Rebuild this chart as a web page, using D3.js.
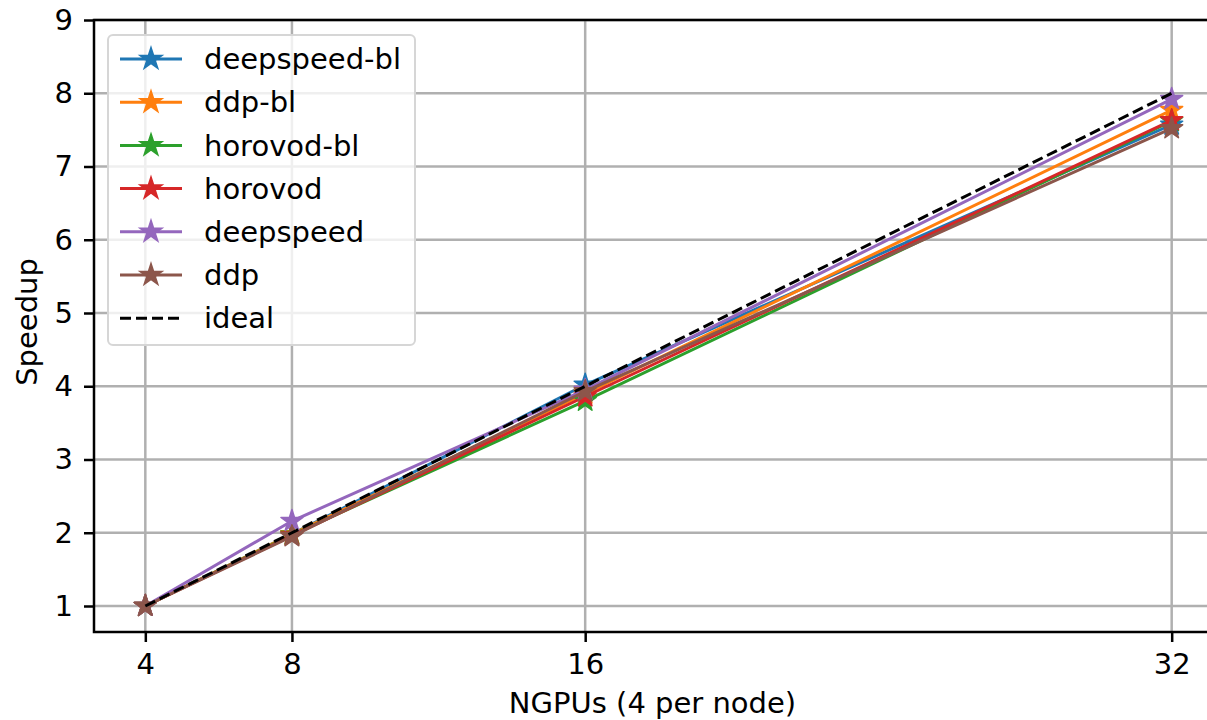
<!DOCTYPE html>
<html>
<head>
<meta charset="utf-8">
<script src="https://cdn.jsdelivr.net/npm/d3@7"></script>
<style>
  body { margin: 0; background: #fff; }
  text { font-family: "DejaVu Sans", sans-serif; fill: #000; }
</style>
</head>
<body>
<div id="chart"></div>
<script>
// Data
const ngpus = [4, 8, 16, 32];
const seriesNames = ['deepspeed-bl', 'ddp-bl', 'horovod-bl', 'horovod', 'deepspeed', 'ddp'];
const deepspeedBl = [1, 1.98, 4.02, 7.57];
const ddpBl = [1, 1.98, 3.90, 7.77];
const horovodBl = [1, 1.97, 3.80, 7.62];
const horovod = [1, 1.96, 3.86, 7.63];
const deepspeed = [1, 2.16, 3.95, 7.92];
const ddp = [1, 1.95, 3.93, 7.52];
const ideal = [1, 2, 4, 8];
const yTicks = [1, 2, 3, 4, 5, 6, 7, 8, 9];
const colors = ['#1f77b4', '#ff7f0e', '#2ca02c', '#d62728', '#9467bd', '#8c564b'];

const W = 1207, H = 720;
const MARGIN = { LEFT: 94, RIGHT: -16, TOP: 20, BOTTOM: 88 };
const FONT = '29px';

const svg = d3.select('#chart').append('svg')
  .attr('width', W).attr('height', H);

const x = d3.scaleLinear().domain([2.6, 33.4]).range([MARGIN.LEFT, W - MARGIN.RIGHT]);
const y = d3.scaleLinear().domain([0.645, 9]).range([H - MARGIN.BOTTOM, MARGIN.TOP]);

// grid
const grid = svg.append('g');
ngpus.forEach(v => {
  grid.append('line').attr('x1', x(v)).attr('x2', x(v))
    .attr('y1', y.range()[1]).attr('y2', y.range()[0])
    .attr('stroke', '#b0b0b0').attr('stroke-width', 2.5);
});
yTicks.forEach(v => {
  grid.append('line').attr('x1', x.range()[0]).attr('x2', x.range()[1])
    .attr('y1', y(v)).attr('y2', y(v))
    .attr('stroke', '#b0b0b0').attr('stroke-width', 2.5);
});

// series
const allSeries = [deepspeedBl, ddpBl, horovodBl, horovod, deepspeed, ddp];
const line = d3.line().x((d, i) => x(ngpus[i])).y(d => y(d));
const star = d3.symbol().type(d3.symbolStar).size(150);

allSeries.forEach((vals, k) => {
  svg.append('path').datum(vals)
    .attr('d', line).attr('fill', 'none')
    .attr('stroke', colors[k]).attr('stroke-width', 3);
  svg.append('g').selectAll('path').data(vals).enter().append('path')
    .attr('d', star)
    .attr('transform', (d, i) => `translate(${x(ngpus[i])},${y(d)})`)
    .attr('fill', colors[k]).attr('stroke', colors[k]).attr('stroke-width', 1.5)
    .attr('stroke-linejoin', 'round');
});

svg.append('path').datum(ideal)
  .attr('d', line).attr('fill', 'none')
  .attr('stroke', '#000').attr('stroke-width', 3)
  .attr('stroke-dasharray', '11,5');

// spines
const axisColor = '#000';
svg.append('rect')
  .attr('x', x.range()[0]).attr('y', y.range()[1])
  .attr('width', x.range()[1] - x.range()[0]).attr('height', y.range()[0] - y.range()[1])
  .attr('fill', 'none').attr('stroke', axisColor).attr('stroke-width', 2.5);

// axes
const xAxis = svg.append('g')
  .attr('transform', `translate(0,${y.range()[0]})`)
  .call(d3.axisBottom(x).tickValues(ngpus).tickSize(10).tickPadding(11));
const yAxis = svg.append('g')
  .attr('transform', `translate(${x.range()[0]},0)`)
  .call(d3.axisLeft(y).tickValues(yTicks).tickSize(10).tickPadding(11));
[xAxis, yAxis].forEach(g => {
  g.select('.domain').remove();
  g.selectAll('.tick line').attr('stroke', axisColor).attr('stroke-width', 2.5);
  g.selectAll('.tick text').style('font-size', FONT).style('font-family', 'DejaVu Sans');
});

svg.append('text')
  .attr('x', (x.range()[0] + x.range()[1]) / 2 - 6).attr('y', 713)
  .attr('text-anchor', 'middle').style('font-size', FONT)
  .text('NGPUs (4 per node)');
svg.append('text')
  .attr('transform', `translate(37,322) rotate(-90)`)
  .attr('text-anchor', 'middle').style('font-size', FONT)
  .text('Speedup');

// legend
const legend = svg.append('g');
legend.append('rect')
  .attr('x', 108).attr('y', 35).attr('width', 307).attr('height', 310)
  .attr('rx', 5).attr('fill', 'rgba(255,255,255,0.8)')
  .attr('stroke', '#d6d6d6').attr('stroke-width', 2);
const legendNames = seriesNames.concat(['ideal']);
legendNames.forEach((name, i) => {
  const ly = 59 + i * 43.2;
  if (i < seriesNames.length) {
    legend.append('line').attr('x1', 120).attr('x2', 182).attr('y1', ly).attr('y2', ly)
      .attr('stroke', colors[i]).attr('stroke-width', 3);
    legend.append('path').attr('d', star)
      .attr('transform', `translate(151,${ly})`)
      .attr('fill', colors[i]).attr('stroke', colors[i]).attr('stroke-width', 1.5);
  } else {
    legend.append('line').attr('x1', 120).attr('x2', 182).attr('y1', ly).attr('y2', ly)
      .attr('stroke', '#000').attr('stroke-width', 3).attr('stroke-dasharray', '11,5');
  }
  legend.append('text').attr('x', 204).attr('y', ly).attr('dy', '0.35em')
    .style('font-size', FONT).text(name);
});
</script>
</body>
</html>
